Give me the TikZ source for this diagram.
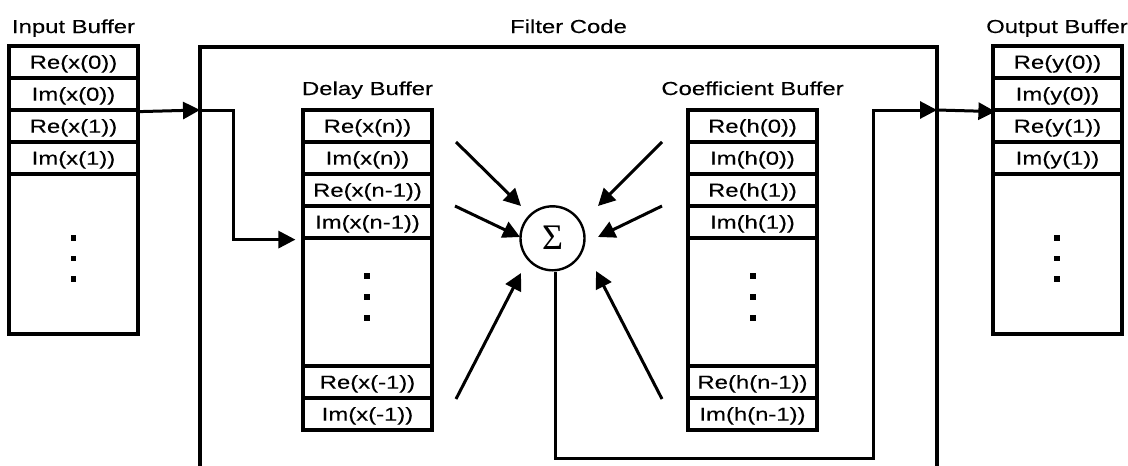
\documentclass[tikz,border=0pt]{standalone}
\usepackage{fontspec}
\newfontfamily\labfont[FakeStretch=1.27,FakeBold=0.15]{Liberation Sans}
\newfontfamily\sigfont{Liberation Serif}
\usetikzlibrary{arrows.meta}
\begin{document}
\begin{tikzpicture}[x=1pt,y=-1pt,
  lab/.style={inner sep=0pt, anchor=base, font=\labfont\fontsize{18.8}{20}\selectfont},
  cell/.style={draw, line width=3.2pt, minimum width=129pt, minimum height=32pt, inner sep=0pt,
    text height=13.4pt, text depth=0pt, font=\labfont\fontsize{18.8}{20}\selectfont},
  wire/.style={line width=3.2pt},
  arr/.style={line width=3pt, -{Triangle[length=17pt,width=17pt]}},
  dotsq/.style={fill=black}
]
\useasboundingbox (0,0) rectangle (1128,466);

% labels
\node[lab] (lin) at (73.5,33) {Input Buffer};
\node[lab] (lfc) at (568.5,33) {Filter Code};
\node[lab] (lout) at (1057,33) {Output Buffer};
\node[lab] (ldel) at (367.5,95) {Delay Buffer};
\node[lab] (lcoef) at (752.5,95) {Coefficient Buffer};

% filter code box (open at bottom)
\draw[wire] (200,470) -- (200,47) -- (937,47) -- (937,470);
\coordinate (fL) at (200,110);
\coordinate (fR) at (937,110);

% input buffer
\node[cell] (in1) at (73.5,62) {Re(x(0))};
\node[cell] (in2) at (73.5,94) {Im(x(0))};
\node[cell] (in3) at (73.5,126) {Re(x(1))};
\node[cell] (in4) at (73.5,158) {Im(x(1))};
\node[cell, minimum height=160pt] (in5) at (73.5,254) {};
\foreach \y in {238,258.5,279} \fill[dotsq] (70.75,\y-2.75) rectangle ++(5.5,5.5);

% output buffer
\node[cell] (o1) at (1057.5,62) {Re(y(0))};
\node[cell] (o2) at (1057.5,94) {Im(y(0))};
\node[cell] (o3) at (1057.5,126) {Re(y(1))};
\node[cell] (o4) at (1057.5,158) {Im(y(1))};
\node[cell, minimum height=160pt] (o5) at (1057.5,254) {};
\foreach \y in {238,258.5,279} \fill[dotsq] (1054,\y-2.75) rectangle ++(5.5,5.5);

% delay buffer
\node[cell] (d1) at (367.5,126) {Re(x(n))};
\node[cell] (d2) at (367.5,158) {Im(x(n))};
\node[cell] (d3) at (367.5,190) {Re(x(n-1))};
\node[cell] (d4) at (367.5,222) {Im(x(n-1))};
\node[cell, minimum height=128pt] (d5) at (367.5,302) {};
\node[cell] (d6) at (367.5,382) {Re(x(-1))};
\node[cell] (d7) at (367.5,414) {Im(x(-1))};
\foreach \y in {276,297,318} \fill[dotsq] (364,\y-2.75) rectangle ++(5.5,5.5);

% coefficient buffer
\node[cell] (c1) at (752.5,126) {Re(h(0))};
\node[cell] (c2) at (752.5,158) {Im(h(0))};
\node[cell] (c3) at (752.5,190) {Re(h(1))};
\node[cell] (c4) at (752.5,222) {Im(h(1))};
\node[cell, minimum height=128pt] (c5) at (752.5,302) {};
\node[cell] (c6) at (752.5,382) {Re(h(n-1))};
\node[cell] (c7) at (752.5,414) {Im(h(n-1))};
\foreach \y in {276,297,318} \fill[dotsq] (750,\y-2.75) rectangle ++(5.5,5.5);

% summation
\node[circle, draw, line width=2.4pt, minimum size=64pt, inner sep=0pt,
  font=\sigfont\fontsize{36}{36}\selectfont, text height=23pt, text depth=0pt] (sig) at (552.5,238.3) {Σ};

% input connections
\draw[arr] (in2.south east) -- (fL);
\draw[arr] (fL) -- ++(33,0) |- ([xshift=-6pt]d4.south west);

% arrows into sigma
\coordinate (L1s) at (456,142); \coordinate (L1e) at (521,206);
\coordinate (L2s) at (455,206); \coordinate (L2e) at (520,237);
\coordinate (L3s) at (456,399); \coordinate (L3e) at (521,273);
\coordinate (R1s) at (662,142); \coordinate (R1e) at (598,206);
\coordinate (R2s) at (662,206); \coordinate (R2e) at (598,237);
\coordinate (R3s) at (662,399); \coordinate (R3e) at (596,271);
\foreach \a in {L1,L2,L3,R1,R2,R3} \draw[arr] (\a s) -- (\a e);

% output connections
\draw[arr] ([xshift=3pt]sig.south) -- ++(0,186.5) -| ([xshift=-64pt]fR) -- (fR);
\draw[arr] (fR) -- ([xshift=4pt]o2.south west);
\end{tikzpicture}
\end{document}
